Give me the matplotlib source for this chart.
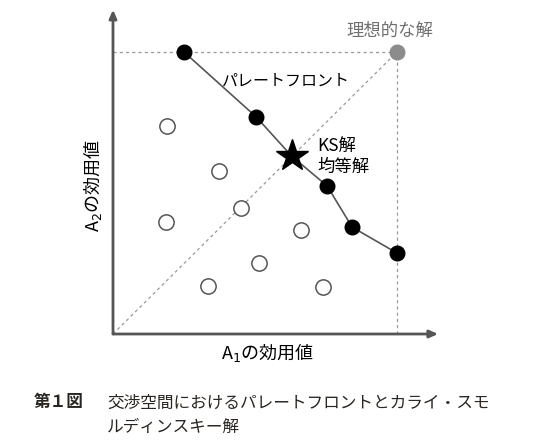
import matplotlib
matplotlib.use("Agg")
import matplotlib.pyplot as plt

plt.rcParams['font.family'] = ['Noto Sans CJK JP', 'DejaVu Sans']
plt.rcParams['mathtext.fontset'] = 'dejavusans'

# Data (utility of A1, utility of A2)
pareto_x = [2.5, 5.04, 6.3, 7.54, 8.42, 10.0]
pareto_y = [10.0, 7.70, 6.3, 5.25, 3.79, 2.87]
ks_x, ks_y = 6.3, 6.3
ideal_x, ideal_y = 10.0, 10.0
other_x = [1.90, 3.73, 1.87, 4.51, 5.14, 3.35, 6.62, 7.39]
other_y = [7.38, 5.78, 3.97, 4.47, 2.52, 1.70, 3.69, 1.67]

label_pareto = "パレートフロント"
label_ideal = "理想的な解"
label_ks = "KS解\n均等解"
xlabel = "A$_1$の効用値"
ylabel = "A$_2$の効用値"
caption1 = "第１図"
caption2 = "交渉空間におけるパレートフロントとカライ・スモ\nルディンスキー解"

W, H = 533, 446
fig = plt.figure(figsize=(W / 100, H / 100), dpi=100)
ax = fig.add_axes([113 / W, 112 / H, 326.6 / W, 324.3 / H])
ax.set_xlim(0, 11.5)
ax.set_ylim(0, 11.5)
ax.axis('off')

dash = dict(color='#9a9a9a', lw=0.9, ls=(0, (2.5, 2.5)))
ax.plot([0, ideal_x], [ideal_y, ideal_y], **dash)
ax.plot([ideal_x, ideal_x], [0, ideal_y], **dash)
ax.plot([0, ideal_x], [0, ideal_y], **dash)

# axes arrows
arrow = dict(arrowstyle='-|>,head_length=0.5,head_width=0.22', color='#555555', lw=2.0,
             shrinkA=0, shrinkB=0)
ax.annotate('', xy=(11.45, 0), xytext=(0, 0), arrowprops=arrow, annotation_clip=False)
ax.annotate('', xy=(0, 11.5), xytext=(0, 0), arrowprops=arrow, annotation_clip=False)

ax.plot(pareto_x, pareto_y, color='#555555', lw=1.2, zorder=2)
ax.plot(pareto_x[:2] + pareto_x[3:], pareto_y[:2] + pareto_y[3:], 'o', ms=10.5,
        color='black', zorder=3, ls='none')
ax.plot(other_x, other_y, 'o', ms=11, mfc='white', mec='#555555', mew=1.1,
        ls='none', zorder=3)
ax.plot([ideal_x], [ideal_y], 'o', ms=10.5, color='#8c8c8c', zorder=3)
ax.plot([ks_x], [ks_y], '*', ms=24, color='black', zorder=4)

ax.text(3.83, 8.98, label_pareto, fontsize=11.5, color='#000000', va='center', ha='left')
ax.text(9.75, 10.75, label_ideal, fontsize=12.5, color='#707070', va='center', ha='center')
ax.text(7.2, 6.30, label_ks, fontsize=12.5, color='#000000', va='center', ha='left',
        linespacing=1.2)

fig.text(268 / W, 1 - 353 / H, xlabel, fontsize=13, ha='center', va='center', color='#000000')
fig.text(93 / W, 1 - 185 / H, ylabel, fontsize=13, ha='center', va='center',
         rotation=90, color='#000000')

fig.text(34 / W, 1 - 402 / H, caption1, fontsize=12, ha='left', va='center',
         color='#2a2520', fontweight='bold')
fig.text(107 / W, 1 - 415.5 / H, caption2, fontsize=12, ha='left', va='center',
         color='#2a2520', linespacing=1.55)

fig.savefig('out.png', dpi=100, facecolor='white')
